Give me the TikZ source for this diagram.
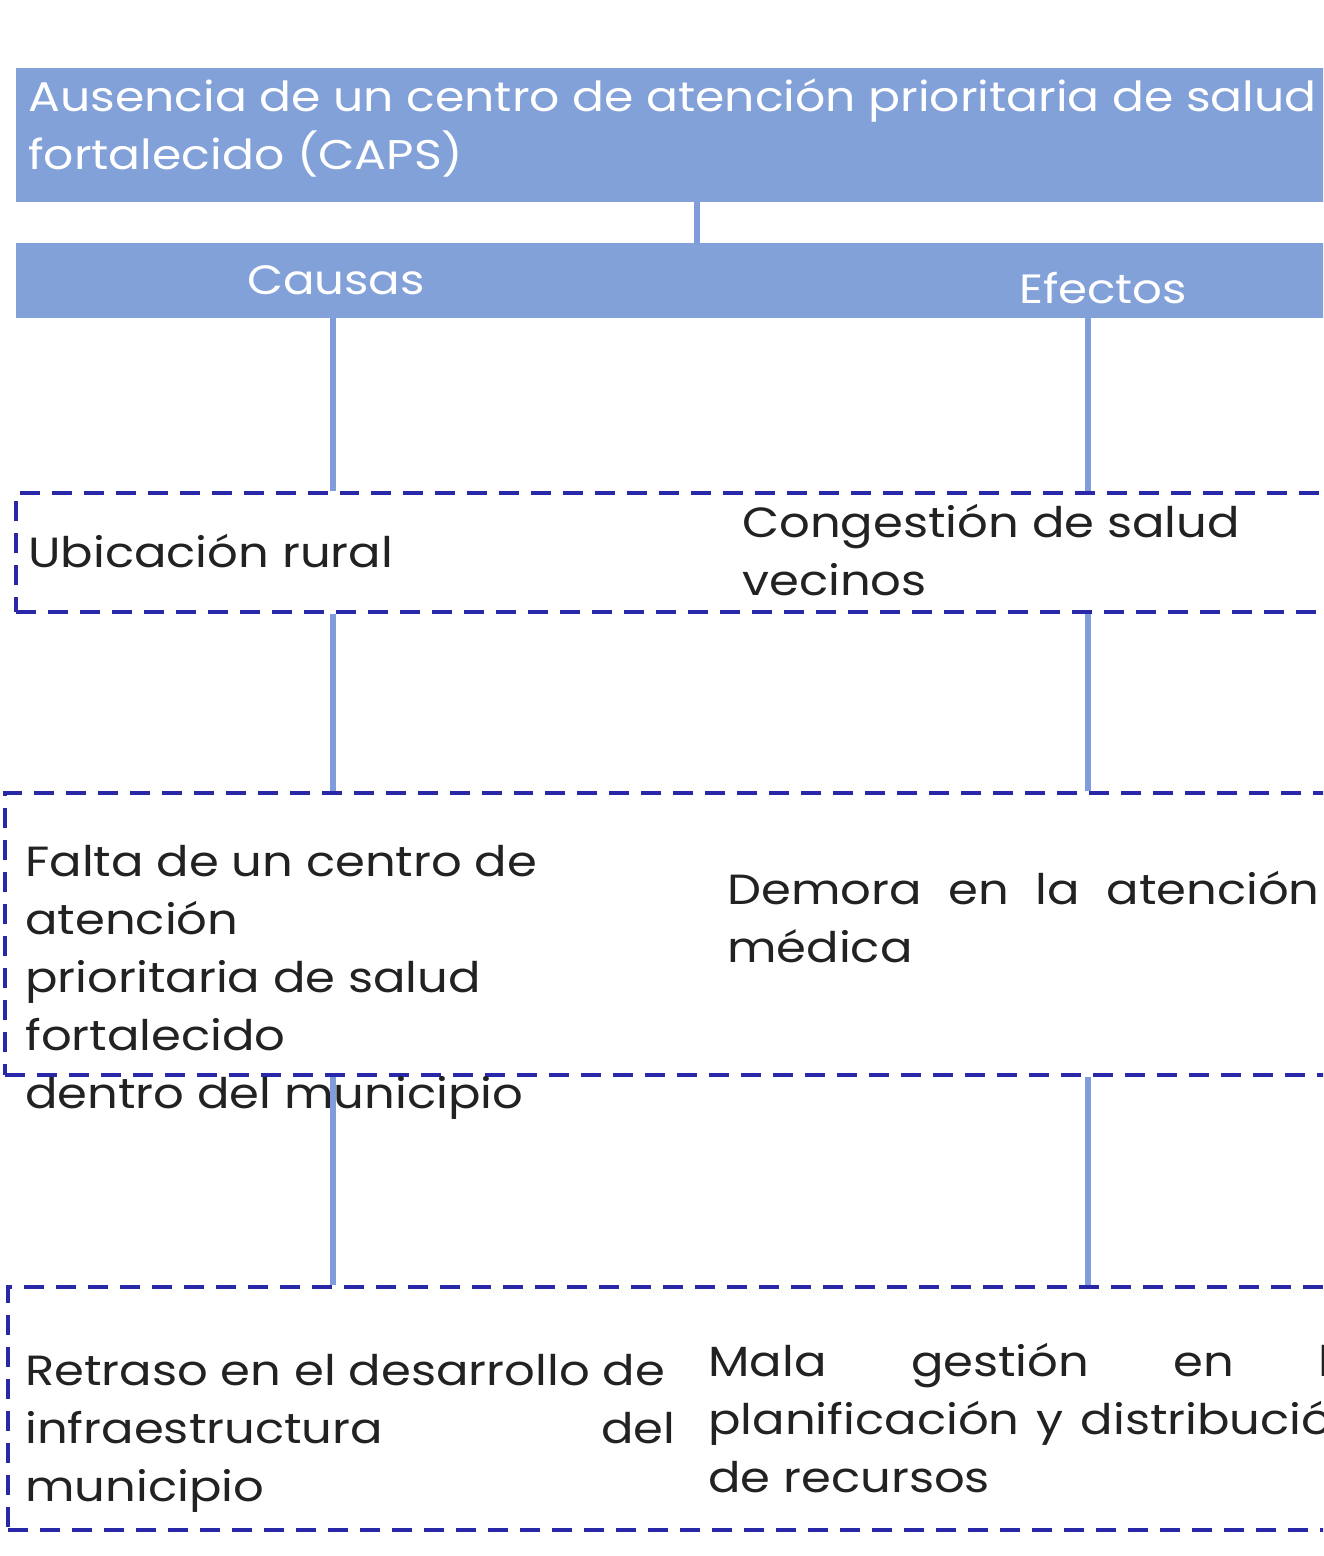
\documentclass[tikz,border=0pt]{standalone}
\usepackage{fontspec}
\setmainfont{Poppins}[FakeStretch=1.14]
\usetikzlibrary{fit}

\definecolor{barblue}{RGB}{131,161,217}
\definecolor{linkblue}{RGB}{128,156,220}
\definecolor{dashblue}{RGB}{40,40,168}
\definecolor{inkgray}{RGB}{34,34,34}

\tikzset{
  barbox/.style={fill=barblue, draw=none, inner sep=0pt},
  dashbox/.style={draw=dashblue, line width=0.08cm, dash pattern=on 0.4cm off 0.24cm, inner sep=0pt},
  link/.style={draw=linkblue, line width=0.12cm},
  bartext/.style={text=white, font=\fontsize{23.3}{33}\selectfont, inner sep=0pt},
  celltext/.style={text=inkgray, font=\fontsize{24}{33}\selectfont, inner sep=0pt, align=left, anchor=north west},
}
% linea justificada a mano
\newcommand{\justline}[2]{\makebox[#1][l]{#2}}

\begin{document}
\begin{tikzpicture}[x=0.02cm,y=-0.02cm]
\useasboundingbox (0,0) rectangle (1323,1556);
\clip (0,0) rectangle (1323,1556);

% problema y barra de causas / efectos
\node[barbox, fit={(16,68) (1360,202)}] (problem) {};
\node[barbox, fit={(16,243) (1360,318)}] (header) {};
\node[celltext, text=white, font=\fontsize{23.6}{33}\selectfont] (problemtext) at (28,78) {Ausencia de un centro de atención prioritaria de salud\\fortalecido (CAPS)};
\node[bartext] (causas) at (336,280) {Causas};
\node[bartext] (efectos) at (1103,288) {Efectos};
\coordinate (lc) at (333,0);
\coordinate (rc) at (1088,0);
\coordinate (mc) at (697,0);

% filas de cajas
\node[dashbox, fit={(16,493) (1360,612)}] (rowA) {};
\node[dashbox, fit={(5,793) (1360,1075)}] (rowB) {};
\node[dashbox, fit={(8,1287) (1360,1530)}] (rowC) {};

\node[celltext] (causeA) at (28,534) {Ubicación rural};
\node[celltext] (effectA) at (742,504) {Congestión de salud\\vecinos};
\node[celltext] (causeB) at (25,845) {Falta de un centro de\\atención\\prioritaria de salud\\fortalecido\\dentro del municipio};
\node[celltext] (effectB) at (727,871) {\justline{11.85cm}{Demora\hfill en\hfill la\hfill atención}\\médica};
\node[celltext] (causeC) at (25,1354) {Retraso en el desarrollo de\\\justline{13cm}{infraestructura\hfill del}\\municipio};
\node[celltext] (effectC) at (708,1343) {\justline{13.1cm}{Mala\hfill gestión\hfill en\hfill la}\\\justline{13.1cm}{planificación\hfill y\hfill distribución}\\de recursos};

% conectores
\draw[link] (problem.south -| mc) -- (header.north -| mc);
\draw[link] (header.south -| lc) -- (rowA.north -| lc);
\draw[link] (header.south -| rc) -- (rowA.north -| rc);
\draw[link] (rowA.south -| lc) -- (rowB.north -| lc);
\draw[link] (rowA.south -| rc) -- (rowB.north -| rc);
\draw[link] (rowB.south -| lc) -- (rowC.north -| lc);
\draw[link] (rowB.south -| rc) -- (rowC.north -| rc);
\end{tikzpicture}
\end{document}
